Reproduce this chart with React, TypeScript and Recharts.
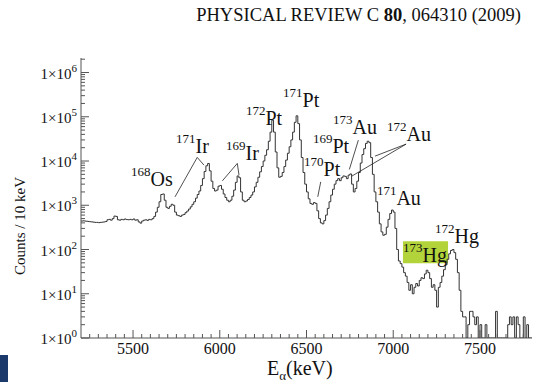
import React from "react";
import {
  ComposedChart,
  Line,
  XAxis,
  YAxis,
  ReferenceArea,
  ReferenceDot,
  ReferenceLine,
  Label,
} from "recharts";

const FONT = "'Liberation Serif', 'DejaVu Serif', serif";

// histogram: 10 keV bins starting at 5200 keV
const E_START = 5200;
const BIN = 10;
const counts = [
  440, 445, 440, 435, 430, 425, 420, 415, 410, 410,
  405, 410, 415, 420, 430, 470, 480, 460, 500, 570,
  560, 470, 460, 480, 470, 490, 475, 470, 480, 470,
  490, 460, 470, 420, 395, 440, 460, 470, 455, 480,
  470, 500, 560, 700, 900, 1200, 1750, 1800, 1300, 900,
  850, 950, 1050, 1000, 700, 600, 580, 560, 600, 620,
  680, 740, 820, 920, 1050, 1200, 1450, 1750, 2100, 2800,
  4000, 5800, 7800, 8800, 6000, 3500, 2400, 2100, 2200, 2700,
  2800, 2300, 1800, 1500, 1300, 1200, 1300, 1600, 2200, 3300,
  4600, 4200, 2000, 1300, 1200, 1250, 1350, 1500, 1700, 2000,
  2600, 3300, 4300, 5700, 7500, 10000, 13500, 18000, 28000, 45000,
  84000, 45000, 16000, 7000, 4300, 4500, 5500, 7500, 10500, 15000,
  21000, 30000, 45000, 75000, 105000, 70000, 30000, 12000, 5500, 3000,
  2000, 1400, 1100, 1050, 1150, 1100, 750, 500, 400, 380,
  450, 600, 850, 1200, 1700, 2300, 3000, 3600, 4000, 3600,
  4200, 4600, 4500, 4000, 4800, 5100, 3000, 2000, 2400, 3500,
  5500, 9000, 14000, 19000, 25000, 28000, 26000, 12000, 5000, 2000,
  1200, 700, 380, 250, 210, 220, 320, 480, 650, 780,
  700, 300, 100, 55, 48, 40, 30, 25, 18, 12,
  16, 10, 14, 17, 15, 20, 23, 22, 28, 34,
  30, 22, 14, 16, 12, 5, 14, 18, 25, 35,
  45, 60, 80, 95, 100, 85, 60, 30, 12, 4,
  3, 3, 1, 2, 4, 4, 3, 2, 3, 1,
  2, 1, 1, 2, 1, 1, 1, 1, 1, 4,
  1, 1, 1, 1, 1, 1, 2, 3, 2, 3,
  1, 3, 2, 1, 1, 3, 1, 2, 1, 1,
];

const xMajor = [5500, 6000, 6500, 7000, 7500];
const yMajor = [1, 10, 100, 1000, 10000, 100000, 1000000];

// isotope labels: anchor = left end / baseline of the label
const isoMass = ["168", "171", "169", "172", "171", "169", "173", "172", "170", "171", "173", "172"];
const isoSym = ["Os", "Ir", "Ir", "Pt", "Pt", "Pt", "Au", "Au", "Pt", "Au", "Hg", "Hg"];
const isoE = [5488, 5748, 6036, 6151, 6365, 6537, 6653, 6964, 6486, 6906, 7056, 7241];
const isoC = [2704, 15100, 10480, 64900, 165700, 15100, 40600, 28200, 4550, 1005, 51.6, 139];

// leader lines [e1, c1, e2, c2]
const leaders = [
  [5870, 12060, 5742, 1550],
  [5870, 12060, 5909, 8070],
  [6101, 8830, 6015, 3565],
  [6101, 8830, 6111, 4800],
  [6799, 29700, 6747, 6457],
  [7074, 24100, 6895, 12900],
  [7074, 24100, 6761, 4550],
  [6582, 3383, 6565, 1550],
];

const data = counts.map((c, i) => ({ e: E_START + i * BIN, c }));
data.push({ e: 7800, c: counts[counts.length - 1] });

const xTicks: number[] = [];
for (let e = 5250; e < 7800; e += 50) xTicks.push(e);
const yTicks: number[] = [];
yMajor.forEach((d) => {
  for (let m = 1; m <= 9; m++) if (m * d <= 2.1e6) yTicks.push(m * d);
});

const XTick = (props: any) => {
  const { x, y, payload } = props;
  const major = xMajor.includes(payload.value);
  return (
    <g>
      <line x1={x} x2={x} y1={y} y2={y - (major ? 8 : 4)} stroke="#555" />
      {major && (
        <text x={x} y={y + 16} textAnchor="middle" fontSize={16} fontFamily={FONT} fill="#111">
          {payload.value}
        </text>
      )}
    </g>
  );
};

const YTick = (props: any) => {
  const { x, y, payload } = props;
  const major = yMajor.includes(payload.value);
  return (
    <g>
      <line x1={x} x2={x + (major ? 8 : 4)} y1={y} y2={y} stroke="#555" />
      {major && (
        <text x={x - 4} y={y + 6} textAnchor="end" fontSize={15} fontFamily={FONT} fill="#111">
          1×10
          <tspan dy={-7} fontSize={11}>
            {Math.round(Math.log10(payload.value))}
          </tspan>
        </text>
      )}
    </g>
  );
};

const Iso = ({ cx, cy, mass, sym }: any) => (
  <text x={cx} y={cy} fontFamily={FONT} fill="#111">
    <tspan fontSize={13} dy={-10.5}>
      {mass}
    </tspan>
    <tspan fontSize={20} dy={10.5}>
      {sym}
    </tspan>
  </text>
);

export default function App() {
  return (
    <div style={{ position: "absolute", left: 0, top: 0, width: 534, height: 382, background: "#fff" }}>
      <svg width={534} height={30} style={{ position: "absolute", left: 0, top: 0 }}>
        <text x={521} y={21} textAnchor="end" fontSize={18.5} fontFamily={FONT} fill="#111">
          PHYSICAL REVIEW C <tspan fontWeight="bold">80</tspan>, 064310 (2009)
        </text>
      </svg>
      <div style={{ position: "absolute", left: 0, top: 355, width: 8, height: 27, background: "#1b3a6b" }} />
      <div style={{ position: "absolute", left: 0, top: 0 }}>
        <ComposedChart width={534} height={382} data={data} margin={{ top: 58, right: 2, bottom: 0, left: 0 }}>
          <ReferenceArea x1={7056} x2={7316} y1={49} y2={154} fill="#b3d33a" fillOpacity={1} stroke="none" />
          <XAxis
            dataKey="e"
            type="number"
            domain={[5200, 7800]}
            ticks={xTicks}
            interval={0}
            height={44}
            tickSize={0}
            tickMargin={0}
            tickLine={false}
            tick={<XTick />}
            axisLine={{ stroke: "#555" }}
          >
            <Label
              content={(p: any) => (
                <text x={p.viewBox.x + 186} y={p.viewBox.y + 37} fontFamily={FONT} fill="#111" fontSize={20}>
                  E<tspan fontSize={13} dy={5}>α</tspan>
                  <tspan dy={-5}>(keV)</tspan>
                </text>
              )}
            />
          </XAxis>
          <XAxis
            xAxisId="top"
            orientation="top"
            type="number"
            domain={[5200, 7800]}
            height={0}
            tick={false}
            tickLine={false}
            axisLine={{ stroke: "#555" }}
          />
          <YAxis
            scale="log"
            type="number"
            domain={[1, 2.13e6]}
            allowDataOverflow
            ticks={yTicks}
            interval={0}
            width={81}
            tickSize={0}
            tickMargin={0}
            tickLine={false}
            tick={<YTick />}
            axisLine={{ stroke: "#555" }}
          >
            <Label
              content={() => (
                <text
                  x={20}
                  y={226}
                  transform="rotate(-90 20 226)"
                  textAnchor="middle"
                  dominantBaseline="central"
                  fontFamily={FONT}
                  fontSize={15}
                  fill="#111"
                >
                  Counts / 10 keV
                </text>
              )}
            />
          </YAxis>
          <YAxis yAxisId="right" orientation="right" width={0} tick={false} tickLine={false} axisLine={{ stroke: "#555" }} />
          <Line
            type="stepAfter"
            dataKey="c"
            stroke="#333"
            strokeWidth={1}
            dot={false}
            isAnimationActive={false}
          />
          {leaders.map((s, i) => (
            <ReferenceLine
              key={"l" + i}
              segment={[
                { x: s[0], y: s[1] },
                { x: s[2], y: s[3] },
              ]}
              stroke="#222"
              strokeWidth={0.8}
            />
          ))}
          {isoMass.map((m, i) => (
            <ReferenceDot
              key={"d" + i}
              x={isoE[i]}
              y={isoC[i]}
              r={0}
              ifOverflow="visible"
              shape={(p: any) => <Iso cx={p.cx} cy={p.cy} mass={m} sym={isoSym[i]} />}
            />
          ))}
        </ComposedChart>
      </div>
    </div>
  );
}
